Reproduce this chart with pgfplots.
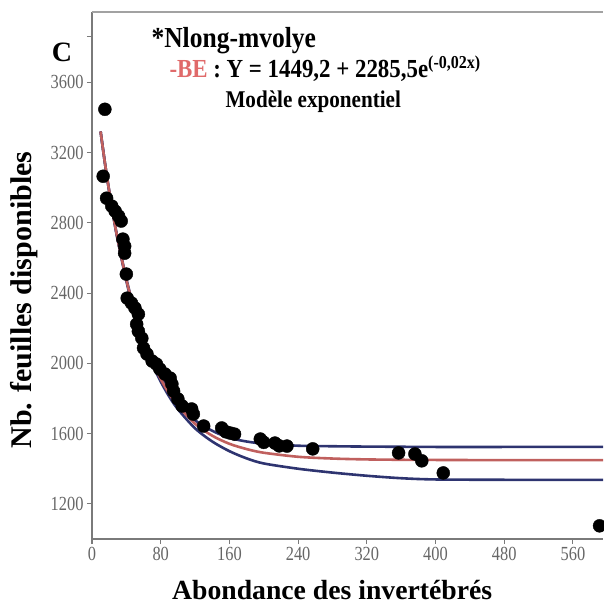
\documentclass[border=0pt]{standalone}
\usepackage{pgfplots}
\pgfplotsset{compat=1.18}
\usepackage{fontspec}
\setmainfont{Liberation Serif}
\newfontfamily\condfont[FakeStretch=0.82]{Liberation Serif}
\newfontfamily\narrowfont[FakeStretch=0.88]{Liberation Serif}
\definecolor{navy}{HTML}{2E3470}
\definecolor{fitred}{HTML}{C0605E}
\definecolor{axgray}{HTML}{7A7A7A}
\definecolor{tickgray}{HTML}{666666}
\definecolor{berred}{HTML}{E06A6A}
\begin{document}
\begin{tikzpicture}
\path[use as bounding box] (0,0) rectangle (603pt,608pt);
\begin{axis}[
  at={(92pt,69pt)}, anchor=south west,
  scale only axis, width=511pt, height=527pt,
  xmin=0, xmax=595, ymin=1000, ymax=4000,
  axis x line*=bottom, axis y line*=left,
  axis line style={axgray, line width=1.3pt, -},
  xtick={0,80,...,560}, ytick={1200,1600,...,3600},
  extra y ticks={3860}, extra y tick labels={},
  tick align=outside, major tick length=5pt,
  tick style={axgray, line width=1.1pt},
  tick label style={font=\condfont\fontsize{20}{20}\selectfont, text=tickgray},
  /pgf/number format/assume math mode=true,
  /pgf/number format/1000 sep={},
  xlabel={Abondance des invertébrés},
  ylabel={Nb. feuilles disponibles},
  xlabel style={at={(axis description cs:0.47,-0.0968)}, anchor=center, font=\bfseries\fontsize{27.7}{28}\selectfont},
  ylabel style={at={(axis description cs:-0.133,0.4535)}, anchor=center, font=\bfseries\fontsize{30}{30}\selectfont},
]
\draw[axgray!70, line width=1.3pt] (rel axis cs:0,1) -- (rel axis cs:1,1);
% upper confidence band
\addplot[navy, line width=2.6pt, smooth] coordinates {
(10,3320) (15,3143) (20,2982) (25,2837) (30,2707) (40,2481) (50,2296) (60,2146)
(70,2023) (80,1922) (90,1839) (100,1774) (120,1676) (140,1616) (160,1576)
(180,1555) (200,1543) (240,1531) (280,1528) (320,1526) (360,1525) (400,1524)
(480,1524) (600,1524)};
% lower confidence band
\addplot[navy, line width=2.6pt, smooth] coordinates {
(10,3320) (15,3141) (20,2979) (25,2832) (30,2699) (40,2468) (50,2280) (60,2126)
(70,1999) (80,1896) (90,1810) (100,1739) (120,1630) (140,1555) (160,1500)
(180,1459) (200,1430) (240,1400) (280,1378) (320,1360) (360,1346) (400,1339)
(480,1337) (600,1337)};
% fitted model
\addplot[fitred, line width=2.6pt, smooth] coordinates {
(10,3320) (15,3142) (20,2981) (25,2835) (30,2704) (40,2476) (50,2290) (60,2138)
(70,2013) (80,1911) (90,1827) (100,1759) (120,1656) (140,1588) (160,1542)
(180,1512) (200,1491) (240,1468) (280,1458) (320,1453) (360,1451) (400,1450)
(480,1449) (600,1449)};
% observations
\addplot[only marks, mark=*, mark size=6.5pt, black] coordinates {
(15,3446) (13,3065) (17,2940) (23,2895) (27,2866) (31,2838) (34,2810) (36,2707)
(38,2667) (38,2627) (40,2508) (41,2371) (46,2343) (50,2315) (54,2280) (52,2223)
(54,2183) (58,2143) (60,2087) (64,2053) (70,2013) (75,1996) (79,1967) (85,1939)
(91,1916) (93,1882) (95,1842) (100,1797) (105,1757) (116,1740) (118,1711)
(130,1643) (151,1632) (156,1610) (161,1603) (166,1597) (196,1569) (200,1550)
(213,1546) (218,1530) (227,1529) (257,1513) (357,1490) (376,1484) (384,1445)
(409,1376) (591,1075)};
\end{axis}
\node[font=\rmfamily\bfseries\fontsize{28}{28}\selectfont] at (62pt,556pt) {C};
\node[anchor=west, font=\narrowfont\bfseries\fontsize{29}{29}\selectfont] at (148pt,567pt) {*Nlong-mvolye};
\node[anchor=west, font=\narrowfont\bfseries\fontsize{26}{26}\selectfont] at (166pt,539pt) {\textcolor{berred}{-BE} : Y = 1449,2 + 2285,5e\textsuperscript{(-0,02x)}};
\node[anchor=west, font=\narrowfont\bfseries\fontsize{24}{24}\selectfont] at (222pt,506pt) {Modèle exponentiel};
\end{tikzpicture}
\end{document}
